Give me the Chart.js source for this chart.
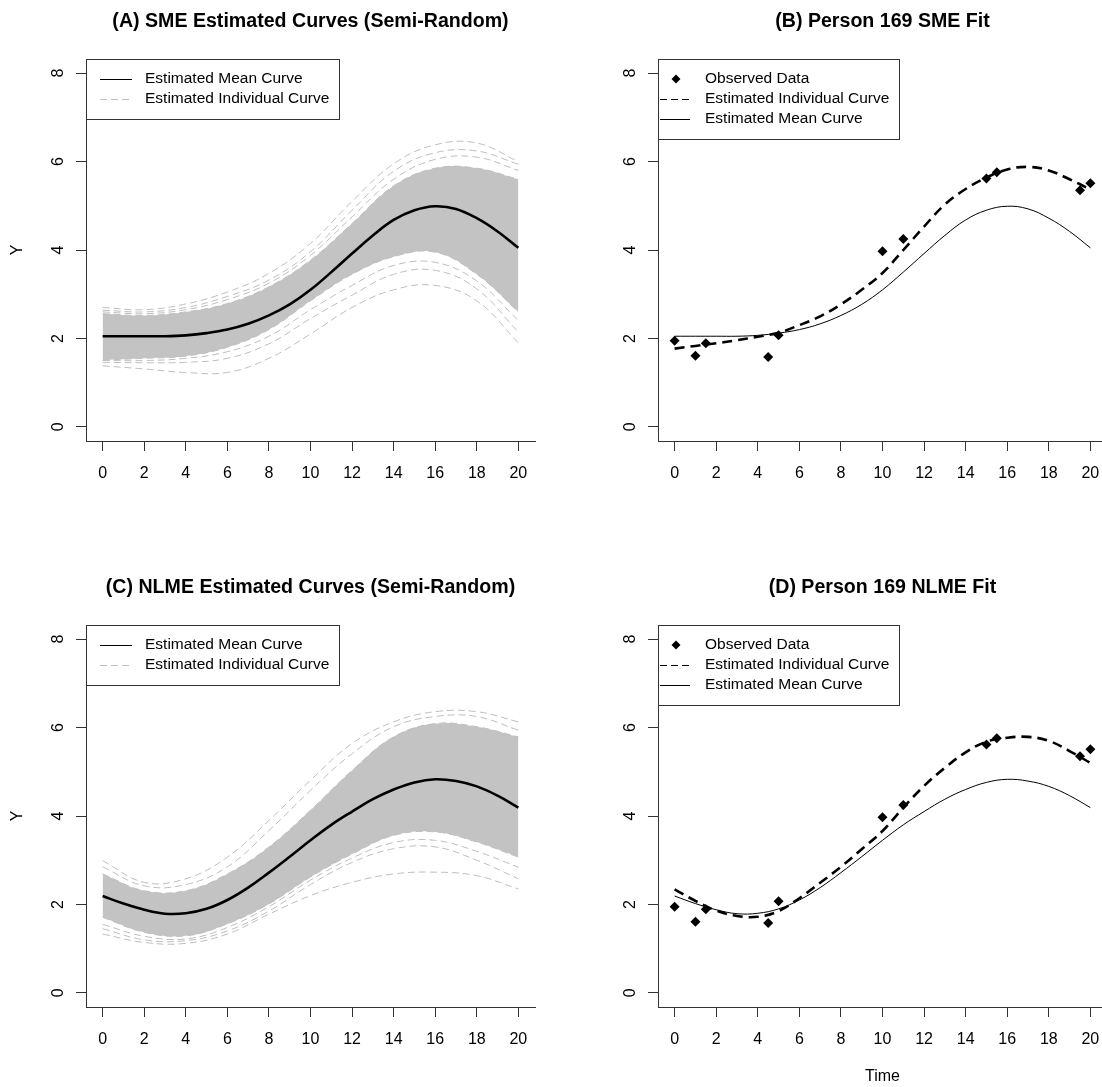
<!DOCTYPE html>
<html>
<head>
<meta charset="utf-8">
<title>SME and NLME estimated curves</title>
<script src="https://cdn.jsdelivr.net/npm/chart.js@4.4.1/dist/chart.umd.min.js"></script>
<style>
  html, body { margin: 0; padding: 0; background: #fff; overflow: hidden; width: 1102px; height: 1087px; }
  .panel { position: absolute; width: 551px; height: 545px; }
  canvas { display: block; }
</style>
</head>
<body>
<div class="panel" style="left:0px;top:0px"><canvas id="panelA" width="551" height="545"></canvas></div>
<div class="panel" style="left:572px;top:0px"><canvas id="panelB" width="551" height="545"></canvas></div>
<div class="panel" style="left:0px;top:566px"><canvas id="panelC" width="551" height="545"></canvas></div>
<div class="panel" style="left:572px;top:566px"><canvas id="panelD" width="551" height="545"></canvas></div>
<script>
// ---- axis ticks ----
const xTicks = [0, 2, 4, 6, 8, 10, 12, 14, 16, 18, 20];
const yTicks = [0, 2, 4, 6, 8];

// ---- time grids ----
const timeGrid = [0, 1, 2, 3, 4, 5, 6, 7, 8, 9, 10, 11, 12, 13, 14, 15, 16, 17, 18, 19, 20];
const cloudTime = [0, 2, 4, 6, 8, 10, 12, 14, 16, 18, 20];

// ---- SME fit ----
const smeMean = [2.05, 2.05, 2.05, 2.05, 2.07, 2.12, 2.2, 2.33, 2.52, 2.77, 3.1, 3.5, 3.92, 4.33, 4.68, 4.9, 4.99, 4.93, 4.72, 4.42, 4.05];
const smePerson169 = [1.77, 1.83, 1.89, 1.96, 2.04, 2.13, 2.3, 2.5, 2.77, 3.1, 3.48, 4.0, 4.53, 5.03, 5.38, 5.64, 5.82, 5.88, 5.8, 5.6, 5.37];
// individual SME curves: dense band edges and outlying curves
const smeBandUpper = [2.56, 2.52, 2.6, 2.79, 3.17, 3.77, 4.6, 5.45, 5.85, 5.85, 5.6];
const smeBandLower = [1.51, 1.55, 1.6, 1.8, 2.2, 2.85, 3.45, 3.85, 3.95, 3.45, 2.6];
const smeHigh1 = [2.7, 2.65, 2.78, 3.05, 3.47, 4.15, 5.1, 5.95, 6.38, 6.42, 6.0];
const smeHigh2 = [2.64, 2.6, 2.7, 2.95, 3.32, 3.96, 4.9, 5.78, 6.2, 6.24, 5.94];
const smeHigh3 = [2.6, 2.56, 2.65, 2.88, 3.25, 3.88, 4.75, 5.6, 6.05, 6.1, 5.8];
const smeLow1 = [1.38, 1.31, 1.23, 1.23, 1.55, 2.1, 2.7, 3.1, 3.2, 2.85, 1.9];
const smeLow2 = [1.46, 1.45, 1.46, 1.55, 1.88, 2.45, 2.98, 3.45, 3.54, 3.12, 2.14];
const smeLow3 = [1.5, 1.5, 1.55, 1.7, 2.05, 2.65, 3.2, 3.65, 3.72, 3.3, 2.4];

// ---- NLME fit ----
const nlmeMean = [2.19, 2.02, 1.88, 1.79, 1.8, 1.9, 2.1, 2.38, 2.72, 3.08, 3.45, 3.8, 4.1, 4.38, 4.6, 4.76, 4.83, 4.79, 4.67, 4.46, 4.19];
const nlmePerson169 = [2.34, 2.08, 1.86, 1.74, 1.72, 1.85, 2.14, 2.49, 2.85, 3.25, 3.66, 4.19, 4.68, 5.09, 5.44, 5.68, 5.77, 5.79, 5.7, 5.47, 5.2];
const nlmeBandUpper = [2.69, 2.31, 2.31, 2.69, 3.3, 4.13, 5.03, 5.79, 6.09, 6.02, 5.79];
const nlmeBandLower = [1.71, 1.37, 1.29, 1.56, 2.01, 2.62, 3.14, 3.56, 3.64, 3.41, 3.07];
const nlmeHigh1 = [2.99, 2.5, 2.58, 3.07, 3.9, 4.81, 5.64, 6.13, 6.36, 6.36, 6.13];
const nlmeHigh2 = [2.85, 2.42, 2.45, 2.85, 3.67, 4.58, 5.41, 6.02, 6.25, 6.25, 5.94];
const nlmeLow1 = [1.33, 1.14, 1.12, 1.33, 1.78, 2.2, 2.5, 2.69, 2.73, 2.65, 2.35];
const nlmeLow2 = [1.45, 1.2, 1.18, 1.4, 1.85, 2.45, 2.95, 3.26, 3.3, 3.0, 2.58];
const nlmeLow3 = [1.55, 1.28, 1.22, 1.48, 1.95, 2.55, 3.05, 3.4, 3.45, 3.2, 2.84];

// ---- person 169 observations ----
const obsTime = [0, 1, 1.5, 4.5, 5, 10, 11, 15, 15.5, 19.5, 20];
const obsY = [1.95, 1.61, 1.89, 1.58, 2.07, 3.97, 4.25, 5.62, 5.76, 5.35, 5.51];

// ---- styles ----
const FONT = '"Liberation Sans", Arial, Helvetica, sans-serif';
const GREY = '#bebebe';
const BAND = '#c3c3c3';
const AXIS = '#333';
const LEGEND_FONT = '15.5px ' + FONT;
Chart.defaults.font.family = FONT;
Chart.defaults.color = '#000';

const pts = (xs, ys) => xs.map((x, i) => ({ x: x, y: ys[i] }));

function greyCurve(ys, extra) {
  return Object.assign({
    data: pts(cloudTime, ys), borderColor: GREY, borderWidth: 1, borderDash: [7, 4],
    pointRadius: 0, tension: 0.4, fill: false, order: 20
  }, extra || {});
}

function cloudDatasets(mean, bandLower, bandUpper, others) {
  const sets = [
    { data: pts(timeGrid, mean), borderColor: '#000', borderWidth: 2.6, pointRadius: 0, tension: 0.4, fill: false, order: 0 },
    greyCurve(bandLower, { order: 30 }),
    greyCurve(bandUpper, { order: 30, fill: { target: 1 }, backgroundColor: BAND })
  ];
  others.forEach(o => sets.push(greyCurve(o)));
  return sets;
}

function fitDatasets(mean, person) {
  return [
    { data: pts(obsTime, obsY), showLine: false, pointStyle: 'rectRot', pointRadius: 5,
      pointBackgroundColor: '#000', pointBorderWidth: 0, order: 0 },
    { data: pts(timeGrid, person), borderColor: '#000', borderWidth: 2.6, borderDash: [10, 6],
      pointRadius: 0, tension: 0.4, fill: false, order: 1 },
    { data: pts(timeGrid, mean), borderColor: '#000', borderWidth: 1, pointRadius: 0, tension: 0.4, fill: false, order: 2 }
  ];
}

// boxed legend anchored at the top-left corner of the plot area
const boxLegend = {
  id: 'boxLegend',
  afterDraw(chart, args, opts) {
    const items = opts.items || [];
    const ctx = chart.ctx;
    const left = Math.round(chart.chartArea.left);
    const top = Math.round(chart.chartArea.top);
    ctx.save();
    ctx.font = LEGEND_FONT;
    let maxW = 0;
    items.forEach(it => { maxW = Math.max(maxW, ctx.measureText(it.label).width); });
    const w = Math.round(opts.textX + maxW + 10);
    const h = (items.length + 1) * 20;
    ctx.fillStyle = '#fff';
    ctx.fillRect(left, top, w, h);
    ctx.strokeStyle = AXIS;
    ctx.lineWidth = 1;
    ctx.setLineDash([]);
    ctx.strokeRect(left + 0.5, top + 0.5, w, h);
    items.forEach((it, i) => {
      const y = top + 20 * (i + 1);
      if (it.kind === 'point') {
        const cx = left + opts.pointX, r = 4.5;
        ctx.fillStyle = '#000';
        ctx.beginPath();
        ctx.moveTo(cx - r, y); ctx.lineTo(cx, y - r); ctx.lineTo(cx + r, y); ctx.lineTo(cx, y + r);
        ctx.closePath(); ctx.fill();
      } else {
        ctx.strokeStyle = it.color;
        ctx.lineWidth = 1;
        ctx.setLineDash(it.dash || []);
        ctx.beginPath();
        ctx.moveTo(left + opts.lineFrom, y + 0.5);
        ctx.lineTo(left + opts.lineTo, y + 0.5);
        ctx.stroke();
        ctx.setLineDash([]);
      }
      ctx.fillStyle = '#000';
      ctx.textBaseline = 'middle';
      ctx.textAlign = 'left';
      ctx.fillText(it.label, left + opts.textX, y);
    });
    ctx.restore();
  }
};

const cloudLegend = {
  textX: 59, lineFrom: 14, lineTo: 46,
  items: [
    { label: 'Estimated Mean Curve', color: '#000' },
    { label: 'Estimated Individual Curve', color: GREY, dash: [7, 4] }
  ]
};
const fitLegend = {
  textX: 47, lineFrom: 2, lineTo: 32, pointX: 18,
  items: [
    { label: 'Observed Data', kind: 'point' },
    { label: 'Estimated Individual Curve', color: '#000', dash: [7, 4] },
    { label: 'Estimated Mean Curve', color: '#000' }
  ]
};

function panelOptions(p) {
  return {
    responsive: false,
    animation: false,
    devicePixelRatio: 1,
    events: [],
    layout: { padding: { left: 0, right: 16, top: 0, bottom: 0 } },
    plugins: {
      legend: { display: false },
      tooltip: { enabled: false },
      title: {
        display: true, text: p.title, fullSize: false, color: '#000',
        font: { size: 19.6, weight: 'bold', lineHeight: 1.2 },
        padding: { top: 10.3, bottom: 25.2 }
      },
      boxLegend: p.legend
    },
    scales: {
      x: {
        type: 'linear', min: -0.8, max: 20.8,
        afterBuildTicks: s => { s.ticks = xTicks.map(v => ({ value: v })); },
        afterFit: s => { s.height = 104; },
        ticks: { font: { size: 16 }, color: '#000', padding: 12.5, maxRotation: 0, minRotation: 0, autoSkip: false },
        grid: { drawOnChartArea: false, drawTicks: true, tickLength: 10, color: AXIS, lineWidth: 1 },
        border: { display: true, color: AXIS, width: 1 },
        title: { display: !!p.xTitle, text: p.xTitle || '', font: { size: 16 }, color: '#000', padding: { top: 0, bottom: 24.7 } }
      },
      y: {
        type: 'linear', min: -0.32, max: 8.32,
        afterBuildTicks: s => { s.ticks = yTicks.map(v => ({ value: v })); },
        afterFit: s => { s.width = 86; },
        ticks: { font: { size: 16 }, color: '#000', padding: 13, minRotation: 90, maxRotation: 90, crossAlign: 'center', autoSkip: false },
        grid: { drawOnChartArea: false, drawTicks: true, tickLength: 10, color: AXIS, lineWidth: 1 },
        border: { display: true, color: AXIS, width: 1 },
        title: { display: !!p.yTitle, text: p.yTitle || '', font: { size: 16 }, color: '#000', padding: { top: 8.4, bottom: 0 } }
      }
    }
  };
}

new Chart(document.getElementById('panelA'), {
  type: 'line',
  data: { datasets: cloudDatasets(smeMean, smeBandLower, smeBandUpper, [smeHigh1, smeHigh2, smeHigh3, smeLow1, smeLow2, smeLow3]) },
  options: panelOptions({ title: '(A) SME Estimated Curves (Semi-Random)', yTitle: 'Y', legend: cloudLegend }),
  plugins: [boxLegend]
});

new Chart(document.getElementById('panelB'), {
  type: 'line',
  data: { datasets: fitDatasets(smeMean, smePerson169) },
  options: panelOptions({ title: '(B) Person 169 SME Fit', legend: fitLegend }),
  plugins: [boxLegend]
});

new Chart(document.getElementById('panelC'), {
  type: 'line',
  data: { datasets: cloudDatasets(nlmeMean, nlmeBandLower, nlmeBandUpper, [nlmeHigh1, nlmeHigh2, nlmeLow1, nlmeLow2, nlmeLow3]) },
  options: panelOptions({ title: '(C) NLME Estimated Curves (Semi-Random)', yTitle: 'Y', legend: cloudLegend }),
  plugins: [boxLegend]
});

new Chart(document.getElementById('panelD'), {
  type: 'line',
  data: { datasets: fitDatasets(nlmeMean, nlmePerson169) },
  options: panelOptions({ title: '(D) Person 169 NLME Fit', xTitle: 'Time', legend: fitLegend }),
  plugins: [boxLegend]
});
</script>
</body>
</html>
